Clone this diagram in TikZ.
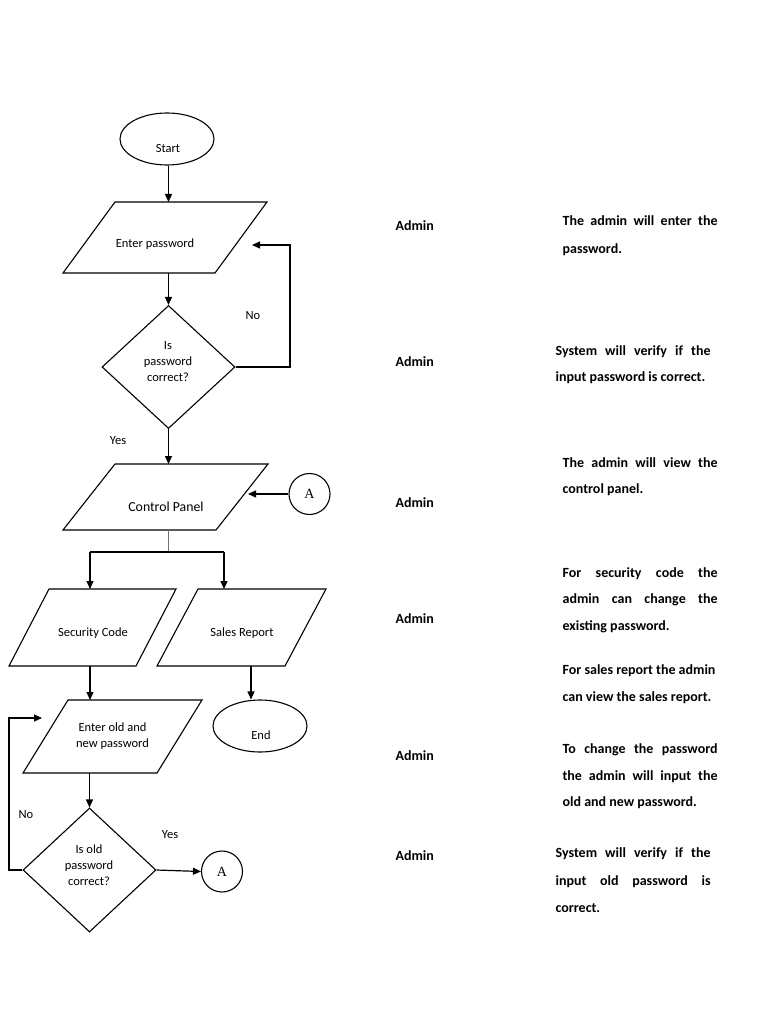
\documentclass[tikz,border=0pt]{standalone}
\usepackage{fontspec}
\setmainfont{Carlito}
\newfontfamily\serifA{Liberation Serif}
\usetikzlibrary{shapes.geometric,arrows.meta}
\newcommand\paral[2]{%
  \draw[shp] ([xshift=#2]#1.north west) -- (#1.north east) -- ([xshift=-#2]#1.south east) -- (#1.south west) -- cycle;}
\begin{document}
\begin{tikzpicture}[x=1pt,y=-1pt,
  line width=1.2pt,
  arr/.style={-{Triangle[length=8pt,width=7pt]}},
  shp/.style={draw,line width=1.1pt},
  box/.style={rectangle,inner sep=0pt,outer sep=0pt},
  lbl/.style={font=\fontsize{12.5}{16}\selectfont,align=center,inner sep=0pt},
  adm/.style={font=\fontsize{14}{16}\selectfont\bfseries,anchor=base west,inner sep=0pt},
  desc/.style={font=\fontsize{14}{16}\selectfont\bfseries,anchor=base west,inner sep=0pt},
  conn/.style={draw,circle,line width=1.1pt,minimum size=41pt,inner sep=0pt,font=\serifA\fontsize{14}{16}\selectfont}]
\useasboundingbox (0,0) rectangle (768,1024);

% ---- flowchart shapes ----
\node[shp,ellipse,minimum width=94pt,minimum height=52pt,inner sep=0pt] (start) at (167,139) {};
\node[lbl] (startt) at (168,148) {Start};

\node[box,minimum width=204pt,minimum height=71pt] (ep) at (165,237.5) {};
\paral{ep}{52pt}
\node[lbl] (ept) at (155,244) {Enter password};

\node[shp,diamond,minimum width=133pt,minimum height=123pt,inner sep=0pt] (d1) at (168.5,367) {};
\node[lbl] (d1t) at (168,362) {Is\\password\\correct?};

\node[box,minimum width=205pt,minimum height=66pt] (cp) at (165.5,497) {};
\paral{cp}{52pt}
\node[lbl,font=\fontsize{13.8}{16}\selectfont] (cpt) at (166,507) {Control Panel};

\node[conn] (a1) at (309.5,494) {A};

\node[box,minimum width=167pt,minimum height=77pt] (sc) at (92.5,627.5) {};
\paral{sc}{40pt}
\node[lbl] (sct) at (93,633) {Security Code};

\node[box,minimum width=169pt,minimum height=77pt] (sr) at (241.5,627.5) {};
\paral{sr}{41pt}
\node[lbl] (srt) at (242,633) {Sales Report};

\node[box,minimum width=179pt,minimum height=73pt] (eo) at (112.5,736.5) {};
\paral{eo}{45pt}
\node[lbl,font=\fontsize{12.5}{15.5}\selectfont] (eot) at (112.5,736) {Enter old and\\new password};

\node[shp,ellipse,minimum width=94pt,minimum height=52pt,inner sep=0pt] (end) at (260,726) {};
\node[lbl] (endt) at (261,735) {End};

\node[shp,diamond,minimum width=133pt,minimum height=124pt,inner sep=0pt] (d2) at (89.5,870) {};
\node[lbl] (d2t) at (89,865) {Is old\\password\\correct?};

\node[conn] (a2) at (222,871.5) {A};

% ---- edge labels ----
\node[lbl] (no1) at (253,316) {No};
\node[lbl] (yes1) at (118,441) {Yes};
\node[lbl] (no2) at (26,815) {No};
\node[lbl] (yes2) at (170,835) {Yes};

% ---- helper coordinates ----
\coordinate (n1) at (290,245);
\coordinate (n1e) at (252,245);
\coordinate (a1e) at (248,494);
\coordinate (br) at (168,552);
\coordinate (bl) at (90,552);
\coordinate (brr) at (224,552);
\coordinate (sre) at (251,0);
\coordinate (n2) at (9,718);
\coordinate (n2e) at (42,718);

% ---- connectors ----
\draw[arr] (start.south -| d1.north) -- (d1.north |- ep.north);
\draw[arr] (ep.south -| d1.north) -- (d1.north);
\draw[arr] (d1.east) -| (n1) -- (n1e);
\draw[arr] (d1.south) -- (d1.south |- cp.north);
\draw[arr] (a1.west) -- (a1e);
\draw[line width=0.9pt,black!55] (br |- cp.south) -- (br);
\draw (bl) -- (brr);
\draw[arr] (bl) -- (bl |- sc.north);
\draw[arr] (brr) -- (brr |- sr.north);
\draw[arr] (bl |- sc.south) -- (bl |- eo.north);
\draw[arr] (sre |- sr.south) -- (sre |- end.north);
\draw[arr] (eo.south -| d2.north) -- (d2.north);
\draw[arr] (d2.west) -| (n2) -- (n2e);
\draw[arr] (d2.east) -- (a2.west);

% ---- right column ----
\node[adm] (ad1) at (395,231) {Admin};
\node[adm] (ad2) at (395,366.5) {Admin};
\node[adm] (ad3) at (395,507.5) {Admin};
\node[adm] (ad4) at (395,623.5) {Admin};
\node[adm] (ad5) at (395,760) {Admin};
\node[adm] (ad6) at (395,860) {Admin};

\node[desc] (t1a) at (562,225.5) {\makebox[155pt][s]{The admin will enter the}};
\node[desc] (t1b) at (562,253.5) {password.};

\node[desc] (t2a) at (555,355) {\makebox[155pt][s]{System will verify if the}};
\node[desc] (t2b) at (555,381.5) {input password is correct.};

\node[desc] (t3a) at (562,467) {\makebox[155pt][s]{The admin will view the}};
\node[desc] (t3b) at (562,493.5) {control panel.};

\node[desc] (t4a) at (562,577) {\makebox[155pt][s]{For security code the}};
\node[desc] (t4b) at (562,603.5) {\makebox[155pt][s]{admin can change the}};
\node[desc] (t4c) at (562,630.5) {existing password.};

\node[desc] (t5a) at (562,674.5) {For sales report the admin};
\node[desc] (t5b) at (562,701.5) {can view the sales report.};

\node[desc] (t6a) at (562,753.5) {\makebox[155pt][s]{To change the password}};
\node[desc] (t6b) at (562,780) {\makebox[155pt][s]{the admin will input the}};
\node[desc] (t6c) at (562,806.5) {old and new password.};

\node[desc] (t7a) at (555,857.5) {\makebox[155pt][s]{System will verify if the}};
\node[desc] (t7b) at (555,885.5) {\makebox[155pt][s]{input old password is}};
\node[desc] (t7c) at (555,912) {correct.};
\end{tikzpicture}
\end{document}
